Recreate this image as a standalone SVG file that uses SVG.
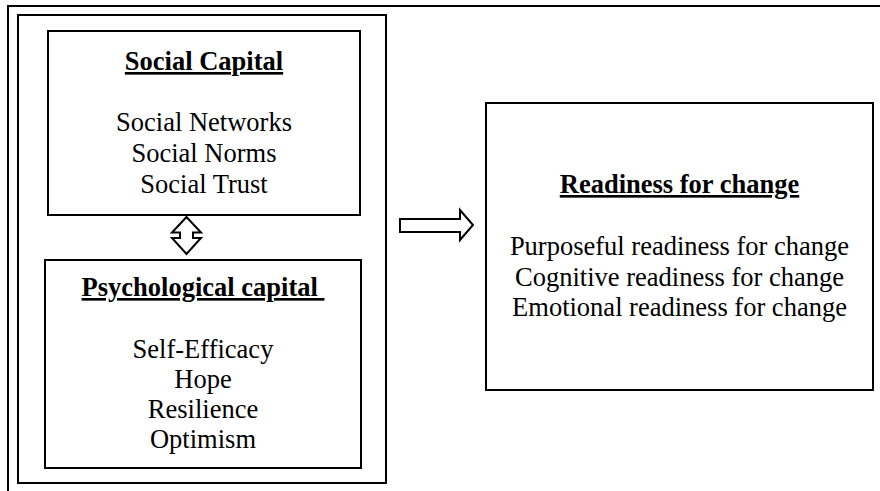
<svg xmlns="http://www.w3.org/2000/svg" width="880" height="491" viewBox="0 0 880 491">
<style>
.box{fill:#fff;stroke:#000;stroke-width:2}
.frame{fill:none;stroke:#000;stroke-width:2}
.arrow{fill:#fff;stroke:#000;stroke-width:2;stroke-linejoin:miter}
text{font-family:"Liberation Serif","Times New Roman",serif;font-size:26.5px;fill:#000;text-anchor:middle}
.title{font-weight:bold;text-decoration:underline}
</style>
<rect width="880" height="491" fill="#fff"/>
<g id="outer-frame">
<path class="frame" d="M8,491 V6 H880"/>
<rect class="frame" x="18" y="15" width="368" height="468"/>
</g>
<g id="social-capital">
<rect class="box" x="48" y="31" width="312" height="184"/>
<text class="title" x="204" y="70">Social Capital</text>
<text x="204" y="131">Social Networks</text>
<text x="204" y="162">Social Norms</text>
<text x="204" y="193">Social Trust</text>
</g>
<g id="psychological-capital">
<rect class="box" x="45" y="260" width="316" height="208"/>
<text class="title" x="203" y="296">Psychological capital&#160;</text>
<text x="203" y="357.5">Self-Efficacy</text>
<text x="203" y="387.8">Hope</text>
<text x="203" y="418">Resilience</text>
<text x="203" y="448.3">Optimism</text>
</g>
<g id="readiness-for-change">
<rect class="box" x="486" y="103" width="387" height="287"/>
<text class="title" x="679.5" y="193">Readiness for change</text>
<text x="679.5" y="255">Purposeful readiness for change</text>
<text x="679.5" y="286">Cognitive readiness for change</text>
<text x="679.5" y="316">Emotional readiness for change</text>
</g>
<g id="connectors">
<path class="arrow" d="M186.5,217 L172,232.5 L180,232.5 L180,238 L172,238 L186.5,254 L201,238 L193,238 L193,232.5 L201,232.5 Z"/>
<path class="arrow" d="M400,219 L460,219 L460,210 L473,225 L460,240 L460,232 L400,232 Z"/>
</g>
</svg>
